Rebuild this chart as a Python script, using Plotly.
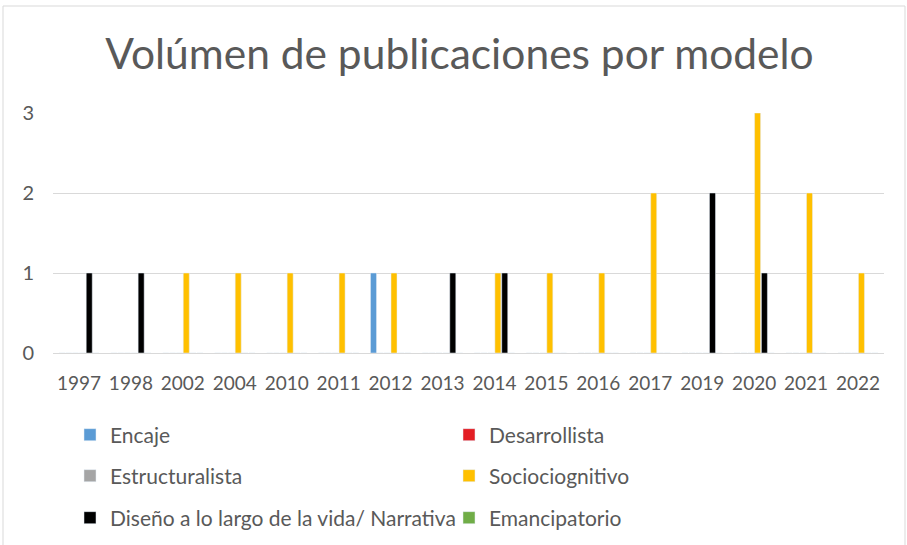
import plotly.graph_objects as go

years = ["1997", "1998", "2002", "2004", "2010", "2011", "2012", "2013",
         "2014", "2015", "2016", "2017", "2019", "2020", "2021", "2022"]
encaje =          [0, 0, 0, 0, 0, 0, 1, 0, 0, 0, 0, 0, 0, 0, 0, 0]
desarrollista =   [0, 0, 0, 0, 0, 0, 0, 0, 0, 0, 0, 0, 0, 0, 0, 0]
estructuralista = [0, 0, 0, 0, 0, 0, 0, 0, 0, 0, 0, 0, 0, 0, 0, 0]
sociocognitivo =  [0, 0, 1, 1, 1, 1, 1, 0, 1, 1, 1, 2, 0, 3, 2, 1]
diseno =          [1, 1, 0, 0, 0, 0, 0, 1, 1, 0, 0, 0, 2, 1, 0, 0]
emancipatorio =   [0, 0, 0, 0, 0, 0, 0, 0, 0, 0, 0, 0, 0, 0, 0, 0]

series = [
    ("Encaje", encaje, "#5B9BD5", "legend"),
    ("Desarrollista", desarrollista, "#E31E24", "legend"),
    ("Estructuralista", estructuralista, "#A5A5A5", "legend2"),
    ("Sociociognitivo", sociocognitivo, "#FFC000", "legend2"),
    ("Diseño a lo largo de la vida/ Narrativa", diseno, "#000000", "legend3"),
    ("Emancipatorio", emancipatorio, "#70AD47", "legend3"),
]

FONT = "Lato"
TXT = "#595959"
W, H = 907, 545
L, R, T, B = 53, 23, 113, 192
pw, ph = W - L - R, H - T - B

def px_to_paper_x(px):
    return (px - L) / pw

def px_to_paper_y(py):
    return (H - B - py) / ph

fig = go.Figure()
for name, vals, color, lg in series:
    fig.add_trace(go.Bar(x=years, y=vals, name=name, marker_color=color,
                         legend=lg))

leg_common = dict(orientation="h", xanchor="left", yanchor="middle",
                  entrywidth=334, entrywidthmode="pixels",
                  font=dict(family=FONT, size=21, color=TXT),
                  bgcolor="rgba(0,0,0,0)", borderwidth=0)

LEGX = px_to_paper_x(70)
fig.update_layout(
    width=W, height=H,
    margin=dict(l=L, r=R, t=T, b=B, autoexpand=False),
    paper_bgcolor="white", plot_bgcolor="white",
    barmode="group", bargap=0.21, bargroupgap=0.12,
    title=dict(text="Volúmen de publicaciones por modelo",
               font=dict(family=FONT, size=42.5, color=TXT),
               x=459.5 / W, xanchor="center", xref="container",
               y=1 - 54 / H, yref="container", yanchor="middle"),
    font=dict(family=FONT, color=TXT),
    legend=dict(x=LEGX, y=px_to_paper_y(435), **leg_common),
    legend2=dict(x=LEGX, y=px_to_paper_y(476), **leg_common),
    legend3=dict(x=LEGX, y=px_to_paper_y(518), **leg_common),
    xaxis=dict(type="category", showgrid=False, showline=False, ticks="",
               tickfont=dict(family=FONT, size=19, color=TXT),
               ticklabelstandoff=17, fixedrange=True),
    yaxis=dict(range=[0, 3], dtick=1, showgrid=True, gridcolor="#D9D9D9",
               gridwidth=1, zeroline=True, zerolinecolor="#D9D9D9",
               zerolinewidth=1, showline=False, ticks="",
               tickfont=dict(family=FONT, size=20, color=TXT),
               ticklabelstandoff=18, fixedrange=True),
    showlegend=True,
)

fig.add_shape(type="rect", xref="paper", yref="paper",
              x0=px_to_paper_x(3), x1=px_to_paper_x(905),
              y0=px_to_paper_y(560), y1=px_to_paper_y(6),
              line=dict(color="#D9D9D9", width=1), fillcolor="rgba(0,0,0,0)",
              layer="below")

fig.write_html("out.html",
               config={"displayModeBar": False},
               post_script="document.body.style.margin='0';"
                           "document.body.style.overflow='hidden';")
